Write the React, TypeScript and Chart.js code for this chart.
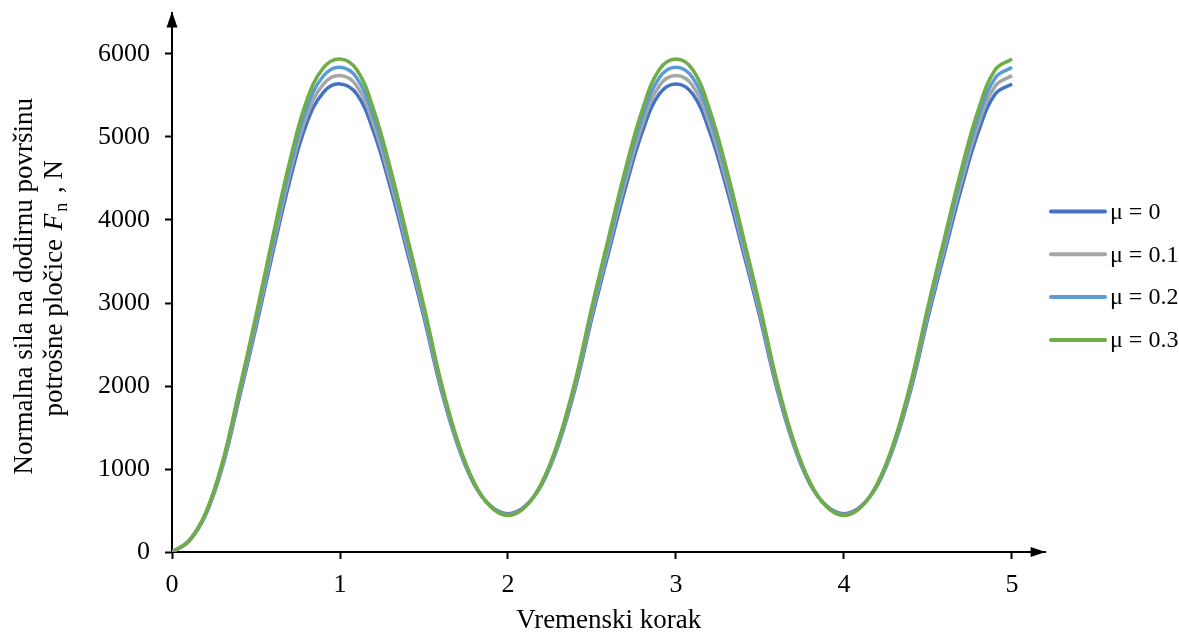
import { useEffect, useRef } from "react";
import { Chart, registerables } from "chart.js";

Chart.register(...registerables);

const timeSteps = [
  0, 0.1, 0.2, 0.3, 0.4, 0.5, 0.6, 0.7, 0.8, 0.9,
  1, 1.1, 1.2, 1.3, 1.4, 1.5, 1.6, 1.7, 1.8, 1.9,
  2, 2.1, 2.2, 2.3, 2.4, 2.5, 2.6, 2.7, 2.8, 2.9,
  3, 3.1, 3.2, 3.3, 3.4, 3.5, 3.6, 3.7, 3.8, 3.9,
  4, 4.1, 4.2, 4.3, 4.4, 4.5, 4.6, 4.7, 4.8, 4.9,
  5,
];

const mu00 = [
  0, 128, 446, 1025, 1852, 2706, 3608, 4463, 5156, 5536,
  5640, 5517, 5063, 4392, 3617, 2823, 1972, 1291, 809, 550,
  460, 550, 809, 1291, 1972, 2823, 3617, 4392, 5063, 5517,
  5640, 5517, 5063, 4392, 3617, 2823, 1972, 1291, 809, 550,
  460, 550, 809, 1291, 1972, 2823, 3617, 4392, 5063, 5517,
  5640,
];

const mu01 = [
  0, 130, 454, 1044, 1884, 2754, 3672, 4542, 5247, 5634,
  5740, 5615, 5152, 4468, 3678, 2868, 2001, 1307, 816, 545,
  453, 545, 816, 1307, 2001, 2868, 3678, 4468, 5152, 5615,
  5740, 5615, 5152, 4468, 3678, 2868, 2001, 1307, 816, 545,
  453, 545, 816, 1307, 2001, 2868, 3678, 4468, 5152, 5615,
  5740,
];

const mu02 = [
  0, 133, 462, 1062, 1917, 2802, 3736, 4621, 5339, 5732,
  5840, 5712, 5241, 4544, 3739, 2914, 2031, 1324, 823, 542,
  447, 542, 823, 1324, 2031, 2914, 3739, 4544, 5241, 5712,
  5840, 5712, 5241, 4544, 3739, 2914, 2031, 1324, 823, 542,
  447, 542, 823, 1324, 2031, 2914, 3739, 4544, 5241, 5712,
  5840,
];

const mu03 = [
  0, 135, 470, 1080, 1950, 2850, 3800, 4700, 5430, 5830,
  5940, 5810, 5330, 4620, 3800, 2960, 2060, 1340, 830, 540,
  440, 540, 830, 1340, 2060, 2960, 3800, 4620, 5330, 5810,
  5940, 5810, 5330, 4620, 3800, 2960, 2060, 1340, 830, 540,
  440, 540, 830, 1340, 2060, 2960, 3800, 4620, 5330, 5810,
  5940,
];

const seriesLabels = ["μ = 0", "μ = 0.1", "μ = 0.2", "μ = 0.3"];
const seriesValues = [mu00, mu01, mu02, mu03];
const seriesColors = ["#4472C4", "#A5A5A5", "#5B9BD5", "#70AD47"];

const xTicks = [0, 1, 2, 3, 4, 5];
const yTicks = [0, 1000, 2000, 3000, 4000, 5000, 6000];
const xMax = 5.2;
const yMax = 6500;

const xTitle = "Vremenski korak";
const yTitleLine1 = "Normalna sila na dodirnu površinu";
const yTitleLine2 = ["potrošne pločice ", "F", "n", " , N"];

const SERIF = "'Liberation Serif', 'Times New Roman', Times, serif";

const decorPlugin = {
  id: "decor",
  afterDraw(chart: any) {
    const { ctx, chartArea } = chart;
    const { left, right, top, bottom } = chartArea;
    ctx.save();
    ctx.fillStyle = "#000";

    // axis arrows
    ctx.beginPath();
    ctx.moveTo(left, top - 1);
    ctx.lineTo(left - 5.5, top + 15);
    ctx.lineTo(left + 5.5, top + 15);
    ctx.closePath();
    ctx.fill();

    ctx.beginPath();
    ctx.moveTo(right, bottom);
    ctx.lineTo(right - 15, bottom - 5);
    ctx.lineTo(right - 15, bottom + 5);
    ctx.closePath();
    ctx.fill();

    // legend
    const legX0 = 1051;
    const legX1 = 1105;
    const legY0 = 211.5;
    const legStep = 42.8;
    chart.data.datasets.forEach((ds: any, i: number) => {
      const y = legY0 + i * legStep;
      ctx.strokeStyle = ds.borderColor;
      ctx.lineWidth = 4;
      ctx.lineCap = "round";
      ctx.beginPath();
      ctx.moveTo(legX0, y);
      ctx.lineTo(legX1, y);
      ctx.stroke();
      ctx.fillStyle = "#000";
      ctx.font = `24px ${SERIF}`;
      ctx.textAlign = "left";
      ctx.textBaseline = "middle";
      ctx.fillText(ds.label, 1110, y + 1);
    });

    // y-axis title (two lines, rotated)
    const cy = (top + bottom) / 2 + 2;
    ctx.fillStyle = "#000";
    ctx.save();
    ctx.translate(32, cy + 2);
    ctx.rotate(-Math.PI / 2);
    ctx.font = `27px ${SERIF}`;
    ctx.textAlign = "center";
    ctx.textBaseline = "alphabetic";
    ctx.fillText(yTitleLine1, 0, 0);
    ctx.restore();

    ctx.save();
    ctx.translate(62, cy + 4);
    ctx.rotate(-Math.PI / 2);
    ctx.textBaseline = "alphabetic";
    ctx.textAlign = "left";
    const fonts = [
      `27px ${SERIF}`,
      `italic 27px ${SERIF}`,
      `18px ${SERIF}`,
      `27px ${SERIF}`,
    ];
    const offsets = [0, 0, 5, 0];
    const gaps = [2, 2, 3, 0];
    let total = 0;
    const widths = yTitleLine2.map((s, i) => {
      ctx.font = fonts[i];
      const w = ctx.measureText(s).width + gaps[i];
      total += w;
      return w;
    });
    let u = -total / 2;
    yTitleLine2.forEach((s, i) => {
      ctx.font = fonts[i];
      ctx.fillText(s, u, offsets[i]);
      u += widths[i];
    });
    ctx.restore();

    ctx.restore();
  },
};

export default function App() {
  const canvasRef = useRef<HTMLCanvasElement | null>(null);

  useEffect(() => {
    document.body.style.margin = "0";
    const canvas = canvasRef.current;
    if (!canvas) return;

    const datasets = seriesLabels.map((label, i) => ({
      label,
      data: timeSteps.map((t, j) => ({ x: t, y: seriesValues[i][j] })),
      borderColor: seriesColors[i],
      backgroundColor: seriesColors[i],
      borderWidth: 3.5,
      pointRadius: 0,
      fill: false,
      tension: 0.4,
      order: seriesLabels.length - 1 - i,
    }));

    const chart = new Chart(canvas, {
      type: "line",
      data: { datasets },
      plugins: [decorPlugin],
      options: {
        animation: false,
        responsive: false,
        maintainAspectRatio: false,
        events: [],
        layout: { padding: { left: 0, top: 12.5, right: 133.4, bottom: 0 } },
        plugins: {
          legend: { display: false },
          tooltip: { enabled: false },
          title: { display: false },
        },
        scales: {
          x: {
            type: "linear",
            min: 0,
            max: xMax,
            afterBuildTicks: (s: any) => {
              s.ticks = xTicks.map((v) => ({ value: v }));
            },
            afterFit: (s: any) => {
              s.height = 80;
              s.paddingLeft = 0;
              s.paddingRight = 0;
            },
            ticks: {
              autoSkip: false,
              maxRotation: 0,
              color: "#000",
              padding: 11,
              font: { family: SERIF, size: 26 },
              callback: (v: any) => String(v),
            },
            grid: {
              display: true,
              drawOnChartArea: false,
              drawTicks: true,
              tickLength: 7,
              tickColor: "#000",
              tickWidth: 2,
            },
            border: { display: true, color: "#000", width: 2 },
            title: {
              display: true,
              text: xTitle,
              color: "#000",
              padding: 0,
              font: { family: SERIF, size: 27, lineHeight: 0.85 },
            },
          },
          y: {
            type: "linear",
            min: 0,
            max: yMax,
            afterBuildTicks: (s: any) => {
              s.ticks = yTicks.map((v) => ({ value: v }));
            },
            afterFit: (s: any) => {
              s.width = 172;
              s.paddingTop = 0;
              s.paddingBottom = 0;
            },
            ticks: {
              autoSkip: false,
              color: "#000",
              padding: 15,
              font: { family: SERIF, size: 26 },
              callback: (v: any) => String(v),
            },
            grid: {
              display: true,
              drawOnChartArea: false,
              drawTicks: true,
              tickLength: 7,
              tickColor: "#000",
              tickWidth: 2,
            },
            border: { display: true, color: "#000", width: 2 },
          },
        },
      },
    } as any);

    return () => chart.destroy();
  }, []);

  return (
    <div style={{ width: 1179, height: 632, position: "relative" }}>
      <canvas ref={canvasRef} width={1179} height={632} style={{ display: "block", width: 1179, height: 632 }} />
    </div>
  );
}
